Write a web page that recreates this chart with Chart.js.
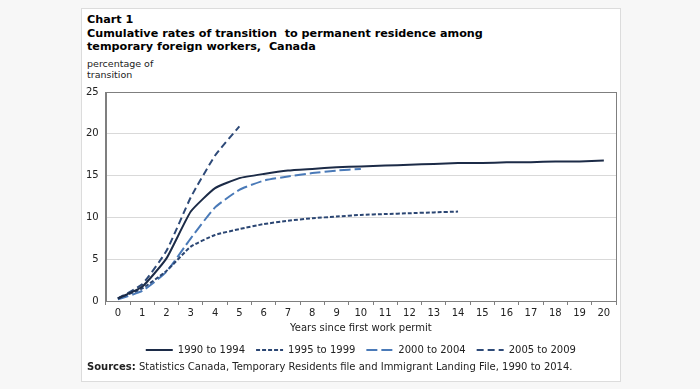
<!DOCTYPE html>
<html>
<head>
<meta charset="utf-8">
<script src="https://cdn.jsdelivr.net/npm/chart.js@4"></script>
<style>
    body { margin: 0; background: #f7f7f7; font-family: "DejaVu Sans", Verdana, sans-serif; }
    #card { position: absolute; left: 81px; top: 8px; width: 538px; height: 372px; background: #fff; border: 1px solid #dcdcdc; }
    .title { position: absolute; left: 5px; font-weight: bold; font-size: 11.2px; color: #000; line-height: 13px; white-space: nowrap; }
    .unit { position: absolute; left: 5px; top: 49px; font-size: 9.5px; color: #222; line-height: 11px; }
    #wrap { position: absolute; left: -3px; top: 70px; width: 542px; height: 286px; }
    .src { position: absolute; left: 5px; top: 352px; font-size: 10px; color: #222; white-space: nowrap; }
</style>
</head>
<body>
<div id="card">
    <div class="title" style="top:4px">Chart 1</div>
    <div class="title" style="top:18px">Cumulative rates of transition&nbsp; to permanent residence among</div>
    <div class="title" style="top:31px">temporary foreign workers,&nbsp; Canada</div>
    <div class="unit">percentage of<br>transition</div>
    <div id="wrap"><canvas id="chart"></canvas></div>
    <div class="src"><b>Sources:</b> Statistics Canada, Temporary Residents file and Immigrant Landing File, 1990 to 2014.</div>
</div>
<script>
const years = ["0","1","2","3","4","5","6","7","8","9","10","11","12","13","14","15","16","17","18","19","20"];
const c1990 = [0.3, 1.7, 5.1, 10.7, 13.5, 14.7, 15.2, 15.6, 15.8, 16.0, 16.1, 16.2, 16.3, 16.4, 16.5, 16.5, 16.6, 16.6, 16.7, 16.7, 16.8];
const c1995 = [0.3, 1.5, 3.6, 6.5, 7.9, 8.6, 9.2, 9.6, 9.9, 10.1, 10.3, 10.4, 10.5, 10.6, 10.7];
const c2000 = [0.2, 1.2, 3.5, 7.5, 11.2, 13.3, 14.4, 14.9, 15.3, 15.6, 15.8];
const c2005 = [0.3, 2.0, 6.0, 12.4, 17.4, 20.9];

const font = { family: "'DejaVu Sans', Verdana, sans-serif", size: 10 };

// box round the plot area
const frame = {
    id: "frame",
    afterDraw(chart) {
        const a = chart.chartArea, ctx = chart.ctx;
        ctx.save();
        ctx.strokeStyle = "#7f7f7f";
        ctx.lineWidth = 1;
        ctx.strokeRect(Math.round(a.left) + 0.5, Math.round(a.top) + 0.5, Math.round(a.right - a.left), Math.round(a.bottom - a.top));
        ctx.restore();
    }
};

function series(label, data, color, dash) {
    return {
        label, data,
        borderColor: color,
        backgroundColor: color,
        borderDash: dash,
        borderWidth: 2,
        pointRadius: 0,
        fill: false,
        tension: 0.15
    };
}

new Chart(document.getElementById("chart"), {
    type: "line",
    data: {
        labels: years,
        datasets: [
            series("1990 to 1994", c1990, "#1c2b47", []),
            series("1995 to 1999", c1995, "#2b4673", [4, 2]),
            series("2000 to 2004", c2000, "#4a7ab8", [11, 4]),
            series("2005 to 2009", c2005, "#2e4a78", [7, 4])
        ]
    },
    options: {
        animation: false,
        responsive: true,
        maintainAspectRatio: false,
        layout: { padding: { left: 0, right: 5, top: 2, bottom: 0 } },
        plugins: {
            legend: {
                position: "bottom",
                fullSize: false,
                labels: {
                    usePointStyle: true,
                    pointStyleWidth: 27,
                    boxHeight: 2,
                    color: "#222",
                    font,
                    padding: 11,
                    generateLabels: chart => chart.data.datasets.map((ds, i) => ({
                        text: ds.label,
                        datasetIndex: i,
                        pointStyle: "line",
                        strokeStyle: ds.borderColor,
                        fillStyle: ds.borderColor,
                        lineWidth: 2,
                        lineDash: ds.borderDash,
                        fontColor: "#222"
                    }))
                }
            },
            tooltip: { enabled: false }
        },
        scales: {
            x: {
                offset: true,
                grid: { display: true, drawOnChartArea: false, offset: true, tickLength: 4, color: "#7f7f7f" },
                border: { color: "#7f7f7f" },
                ticks: { color: "#222", font, maxRotation: 0, autoSkip: false, padding: 2 },
                title: { display: true, text: "Years since first work permit", color: "#222", font, padding: { top: 1, bottom: 0 } }
            },
            y: {
                min: 0, max: 25,
                ticks: { stepSize: 5, color: "#222", font, padding: 7 },
                grid: { color: "#d9d9d9", drawTicks: false },
                border: { color: "#7f7f7f" }
            }
        }
    },
    plugins: [frame]
});
</script>
</body>
</html>
